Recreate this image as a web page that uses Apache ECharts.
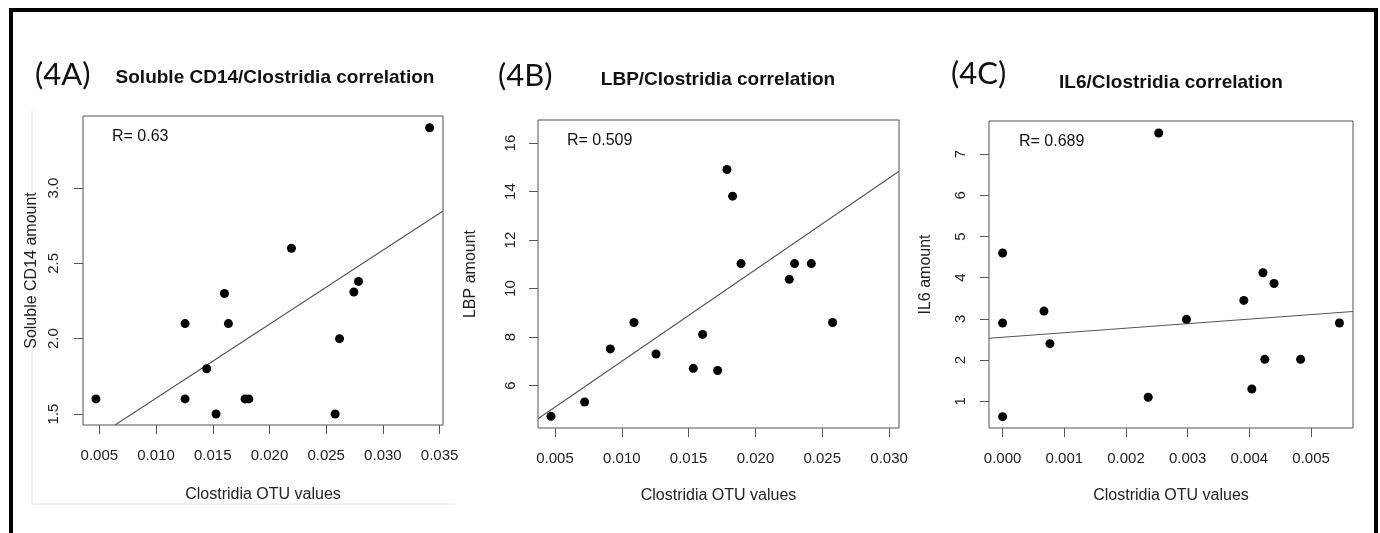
<!DOCTYPE html>
<html>
<head>
<meta charset="utf-8">
<script src="https://cdn.jsdelivr.net/npm/echarts@6/dist/echarts.min.js"></script>
<style>
html,body{margin:0;padding:0;background:#fff;}
#chart{width:1380px;height:533px;}
</style>
</head>
<body>
<div id="chart"></div>
<script>
// ---- Panel A: Soluble CD14 ----
var pointsA = [
  [0.0047,1.60],[0.01256,2.10],[0.01256,1.60],[0.01447,1.80],[0.01529,1.50],
  [0.01603,2.30],[0.01638,2.10],[0.01785,1.60],[0.01818,1.60],[0.02194,2.60],
  [0.02579,1.50],[0.02618,2.00],[0.02744,2.31],[0.02785,2.38],[0.03412,3.40]
];
var fitA = [[0.00638,1.427],[0.0353,2.847]];
var xTicksA = [0.005,0.010,0.015,0.020,0.025,0.030,0.035];
var yTicksA = [1.5,2.0,2.5,3.0];

// ---- Panel B: LBP ----
var pointsB = [
  [0.0047,4.73],[0.00722,5.32],[0.00914,7.51],[0.01091,8.60],[0.01256,7.30],
  [0.01535,6.71],[0.01605,8.11],[0.01717,6.62],[0.01787,14.91],[0.01829,13.81],
  [0.01892,11.03],[0.02253,10.38],[0.02293,11.03],[0.02418,11.03],[0.02577,8.60]
];
var fitB = [[0.00373,4.63],[0.03074,14.84]];
var xTicksB = [0.005,0.010,0.015,0.020,0.025,0.030];
var yTicksB = [6,8,10,12,14,16];

// ---- Panel C: IL6 ----
var pointsC = [
  [0,4.60],[0,2.90],[0,0.63],[0.00067,3.19],[0.000767,2.40],
  [0.00236,1.10],[0.00253,7.51],[0.00298,2.99],[0.00391,3.45],[0.00404,1.30],
  [0.00422,4.12],[0.00425,2.02],[0.0044,3.86],[0.00483,2.02],[0.00546,2.90]
];
var fitC = [[-0.000221,2.53],[0.00568,3.18]];
var xTicksC = [0.000,0.001,0.002,0.003,0.004,0.005];
var yTicksC = [1,2,3,4,5,6,7];

var panelLabels = ['(4A)','(4B)','(4C)'];
var panelTitles = ['Soluble CD14/Clostridia correlation','LBP/Clostridia correlation','IL6/Clostridia correlation'];
var rTexts = ['R= 0.63','R= 0.509','R= 0.689'];
var yNames = ['Soluble CD14 amount','LBP amount','IL6 amount'];
var xName = 'Clostridia OTU values';

var FONT = '"Liberation Sans", Arial, Helvetica, sans-serif';

var layout = [
  {grid:{left:83,top:116,width:360,height:309}, x:[0.00356,0.0353], y:[1.427,3.478], xd:3, yd:1, yGap:43, xGap:62, ylm:22},
  {grid:{left:538,top:120,width:361,height:308}, x:[0.00373,0.03074], y:[4.25,16.95], xd:3, yd:0, yGap:59, xGap:60, ylm:20},
  {grid:{left:989,top:121,width:364,height:307}, x:[-0.000221,0.00568], y:[0.355,7.80], xd:3, yd:0, yGap:55, xGap:60, ylm:21}
];
var pts = [pointsA,pointsB,pointsC];
var fits = [fitA,fitB,fitC];
var xT = [xTicksA,xTicksB,xTicksC];
var yT = [yTicksA,yTicksB,yTicksC];

var grids=[], xAxes=[], yAxes=[], series=[];
layout.forEach(function(L,i){
  grids.push(Object.assign({show:true, borderColor:'#555', borderWidth:1, backgroundColor:'transparent', containLabel:false, outerBoundsMode:'none'}, L.grid));
  xAxes.push({
    gridIndex:i, type:'value', min:L.x[0], max:L.x[1],
    axisLine:{show:false, onZero:false},
    splitLine:{show:false},
    axisTick:{show:true, length:9, lineStyle:{color:'#555'}, customValues:xT[i]},
    axisLabel:{customValues:xT[i], margin:23, fontSize:15, fontFamily:FONT, color:'#222',
      formatter:(function(d){return function(v){return Number(v).toFixed(d);};})(L.xd)},
    name:xName, nameLocation:'middle', nameGap:L.xGap,
    nameTextStyle:{fontSize:16, fontFamily:FONT, color:'#222'}
  });
  yAxes.push({
    gridIndex:i, type:'value', min:L.y[0], max:L.y[1],
    axisLine:{show:false, onZero:false},
    splitLine:{show:false},
    axisTick:{show:true, length:9, lineStyle:{color:'#555'}, customValues:yT[i]},
    axisLabel:{customValues:yT[i], margin:L.ylm, rotate:90, fontSize:15, fontFamily:FONT, color:'#222',
      formatter:(function(d){return function(v){return Number(v).toFixed(d);};})(L.yd)},
    name:yNames[i], nameLocation:'middle', nameGap:L.yGap,
    nameTextStyle:{fontSize:16, fontFamily:FONT, color:'#222'}
  });
  series.push({
    type:'line', xAxisIndex:i, yAxisIndex:i, data:fits[i], symbol:'none',
    lineStyle:{color:'#555', width:1.1}, clip:true, silent:true, z:2
  });
  series.push({
    type:'scatter', xAxisIndex:i, yAxisIndex:i, data:pts[i], symbol:'circle', symbolSize:9,
    itemStyle:{color:'#000', opacity:1}, silent:true, z:3
  });
});

function txt(x,y,text,size,weight,family,align){
  return {type:'text', x:x, y:y, silent:true, z:10,
    style:{text:text, fontSize:size, fontWeight:weight||'normal', fontFamily:family||FONT,
      fill:'#111', align:align||'left', verticalAlign:'middle'}};
}

var graphics = [
  {type:'polyline', silent:true, z:0, shape:{points:[[32,110],[32,504],[455,504]]}, style:{fill:'none', stroke:'#e6e6e6', lineWidth:1}},
  {type:'rect', silent:true, z:0, shape:{x:11,y:10,width:1365,height:545}, style:{fill:'none', stroke:'#000', lineWidth:4}},
  txt(35,75,panelLabels[0],31,'normal','Lato, "Open Sans", sans-serif'),
  txt(498,76,panelLabels[1],31,'normal','Lato, "Open Sans", sans-serif'),
  txt(951,74,panelLabels[2],31,'normal','Lato, "Open Sans", sans-serif'),
  txt(275,78,panelTitles[0],19,'bold',FONT,'center'),
  txt(718,80,panelTitles[1],19,'bold',FONT,'center'),
  txt(1171,83,panelTitles[2],19,'bold',FONT,'center'),
  txt(112,137,rTexts[0],16,'normal',FONT),
  txt(567,141,rTexts[1],16,'normal',FONT),
  txt(1019,142,rTexts[2],16,'normal',FONT)
];

var chart = echarts.init(document.getElementById('chart'), null, {renderer:'canvas'});
chart.setOption({
  animation:false,
  backgroundColor:'#fff',
  grid:grids, xAxis:xAxes, yAxis:yAxes, series:series,
  graphic:graphics
});
</script>
</body>
</html>
